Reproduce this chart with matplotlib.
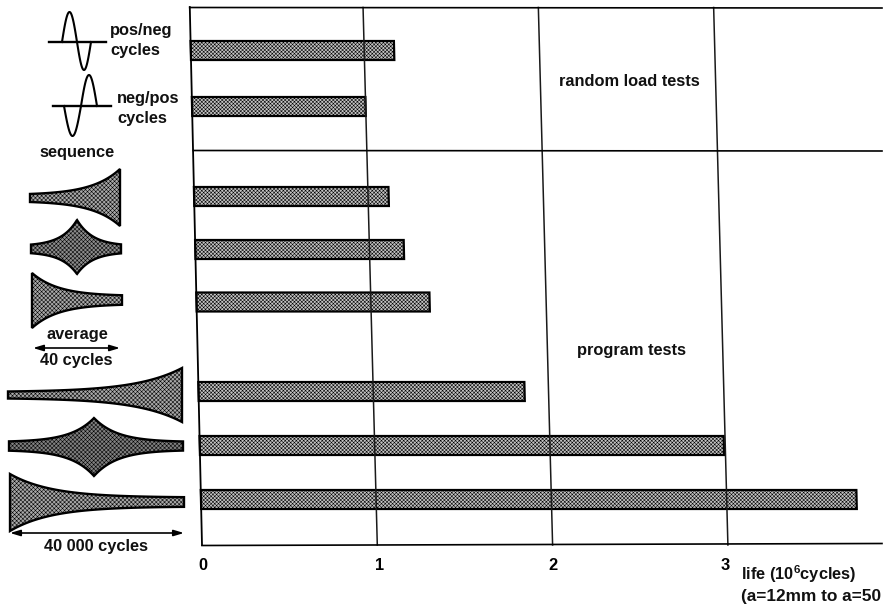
import numpy as np
import matplotlib
matplotlib.use("Agg")
import matplotlib.pyplot as plt
from matplotlib.transforms import Affine2D, ScaledTranslation
from matplotlib.patches import Polygon

# ---- data -------------------------------------------------------------
life_values = [1.16, 0.99, 1.11, 1.19, 1.33, 1.86, 2.99, 3.74]
bar_rows = [50.5, 106.5, 196.5, 249.5, 302, 391.5, 445.5, 499.5]
tick_values = [0, 1, 2, 3]
tick_labels = ["0", "1", "2", "3"]
grid_values = [1, 2, 3]

W, H = 886, 606
plt.rcParams["font.family"] = ["Liberation Sans", "DejaVu Sans"]
plt.rcParams["mathtext.default"] = "regular"
plt.rcParams["hatch.linewidth"] = 0.38

fig = plt.figure(figsize=(W / 100, H / 100), dpi=100, facecolor="white")

# ---- main chart -------------------------------------------------------
PX_PER_UNIT = 175.3
ax = fig.add_axes([202 / W, (H - 545) / H, 680 / W, 538 / H])
ax.set_xlim(0, 680 / PX_PER_UNIT)
ax.set_ylim(545, 7)
ax.patch.set_alpha(0)
for s in ax.spines.values():
    s.set_visible(False)


def skew(slope):
    k = slope / PX_PER_UNIT
    return Affine2D(np.array([[1, k, -k * 545], [0, 1, 0], [0, 0, 1]])) + ax.transData


bar_skew = skew(0.0227)
grid_skew = skew(0.0265)

bars = ax.barh(bar_rows, life_values, height=19, facecolor="#c4c4c4",
               edgecolor="black", linewidth=1.6, hatch="xxxxxxxxx", zorder=2)
for b in bars:
    b.set_transform(bar_skew)
    b.set_clip_on(False)

for v in grid_values:
    ax.plot([v, v], [7.5, 545], color="#1a1a1a", lw=1.1, transform=grid_skew,
            clip_on=False, zorder=3)
ax.plot([0, 0], [7, 545], color="black", lw=1.3, transform=bar_skew, clip_on=False, zorder=3)
ax.plot([-0.07, 3.879], [7.5, 8], color="black", lw=1.2, clip_on=False, zorder=3)
ax.plot([-0.05, 3.879], [150.5, 151], color="black", lw=1.2, clip_on=False, zorder=3)
ax.plot([0, 3.879], [545.5, 543.5], color="black", lw=1.2, clip_on=False, zorder=3)

ax.set_yticks([])
ax.set_xticks(tick_values)
ax.set_xticklabels(tick_labels, fontsize=11.8, fontweight="bold")
ax.tick_params(axis="x", length=0, pad=9)
for lab, dx in zip(ax.get_xticklabels(), [1, 2, 0, -3]):
    lab.set_transform(lab.get_transform() + ScaledTranslation(dx / 100, 0, fig.dpi_scale_trans))

# ---- annotation overlay in pixel coordinates ---------------------------
ov = fig.add_axes([0, 0, 1, 1], zorder=5)
ov.set_xlim(0, W)
ov.set_ylim(H, 0)
ov.axis("off")
ov.patch.set_alpha(0)


def envelope(x0, x1, yc, peak, top, bottom, end, rate, fill="#a8a8a8"):
    """Amplitude-modulation glyph: cusp at x=peak decaying to half-height `end`."""
    x = np.linspace(x0, x1, 300)
    d = np.abs(x - peak)
    span = max(peak - x0, x1 - peak)
    shape = np.exp(-rate * d / span)
    up = end + (top - end) * shape
    dn = end + (bottom - end) * shape
    pts = np.r_[np.c_[x, yc - up], np.c_[x[::-1], (yc + dn)[::-1]]]
    ov.add_patch(Polygon(pts, closed=True, facecolor=fill, edgecolor="black",
                         lw=1.7, hatch="xxxxxxxx", joinstyle="miter"))


envelope(30, 120, 198, 120, 29, 28, 3, 3.2)
envelope(31, 121, 249, 77, 29, 25, 3, 2.9, fill="#8c8c8c")
envelope(32, 122, 300, 32, 27, 28, 4, 3.4)
envelope(8, 182, 395, 182, 27, 27, 3, 3.8)
envelope(9, 183, 446, 94, 28, 30, 4, 3.8, fill="#808080")
envelope(10, 184, 502, 10, 28, 29, 4.5, 4.2)


def sine(x0, xm, x1, yc, first_amp, second_amp):
    xa = np.linspace(x0, xm, 60)
    xb = np.linspace(xm, x1, 60)
    ya = yc - first_amp * np.sin(np.pi * (xa - x0) / (xm - x0))
    yb = yc - second_amp * np.sin(np.pi * (xb - xm) / (x1 - xm))
    ov.plot(np.r_[xa, xb], np.r_[ya, yb], color="black", lw=1.5)


ov.plot([49, 106], [42, 42], color="black", lw=1.7)
sine(62, 77, 91, 42, 30, -28)
ov.plot([53, 111], [106, 106], color="black", lw=1.7)
sine(64, 81, 97, 106, -30, 31)

for y, x0, x1 in [(348, 33, 120), (533, 10, 184)]:
    ov.annotate("", xy=(x0, y), xytext=(x1, y),
                arrowprops=dict(arrowstyle="<|-|>,head_length=0.6,head_width=0.18",
                                color="black", lw=1.2, shrinkA=0, shrinkB=0))

left_txt = dict(fontsize=11.8, fontweight="bold", color="#111111", va="center")
for s, x, y, ha in [("pos/neg", 110, 30, "left"), ("cycles", 110, 51, "left"),
                    ("neg/pos", 117, 98, "left"), ("cycles", 117, 119, "left"),
                    ("sequence", 77, 152, "center"), ("average", 77, 335, "center"),
                    ("40 cycles", 76, 361, "center"), ("40 000 cycles", 96, 547, "center")]:
    ov.text(x, y, s, ha=ha, **left_txt)

ov.text(629.5, 81, "random load tests", ha="center", **left_txt)
ov.text(631.5, 351, "program tests", ha="center", **left_txt)
ov.text(741, 574, "life (10$^{6}$cycles)", ha="left", **left_txt)
ov.text(741, 596, "(a=12mm to a=50", ha="left", **{**left_txt, "fontsize": 12.4})

fig.savefig("out.png", dpi=100)
